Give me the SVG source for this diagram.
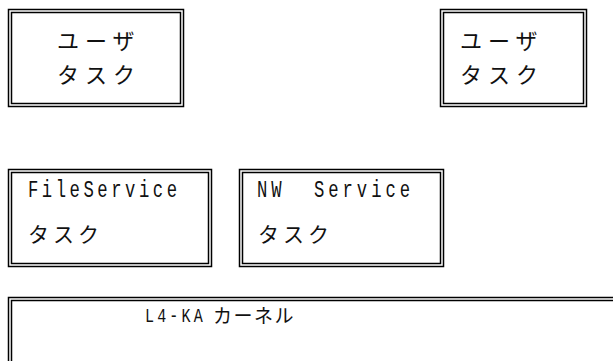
<svg xmlns="http://www.w3.org/2000/svg" width="613" height="361" viewBox="0 0 613 361">
<style>
.o{fill:none;stroke:#000;stroke-width:1.5}
.j{font-family:"Noto Sans CJK JP",sans-serif;font-size:22px;fill:#111}
.s{font-family:"Noto Sans CJK JP",sans-serif;font-size:21px;fill:#111}
.k{font-family:"Noto Sans CJK JP",sans-serif;font-size:19px;fill:#111}
.m{font-family:"Liberation Mono",monospace;font-size:23px;fill:#111;white-space:pre}
.n{font-family:"Liberation Mono",monospace;font-size:20px;fill:#111;white-space:pre}
</style>
<rect width="613" height="361" fill="#fff"/>
<g id="user1">
<rect class="o" x="8.5" y="9.5" width="175" height="97"/>
<rect class="o" x="11.5" y="12.5" width="169" height="91"/>
<text class="j" x="57" y="49" letter-spacing="6">ユーザ</text>
<text class="j" x="57" y="83" letter-spacing="6">タスク</text>
</g>
<g id="user2">
<rect class="o" x="440.5" y="9.5" width="146" height="97"/>
<rect class="o" x="443.5" y="12.5" width="140" height="91"/>
<text class="j" x="460" y="49" letter-spacing="6">ユーザ</text>
<text class="j" x="460" y="83" letter-spacing="6">タスク</text>
</g>
<g id="fileservice">
<rect class="o" x="8.5" y="169.5" width="203" height="97"/>
<rect class="o" x="11.5" y="172.5" width="197" height="91"/>
<text class="m" transform="scale(0.75,1)" x="37.3" y="197" textLength="198.7" lengthAdjust="spacing">FileService</text>
<text class="s" x="28" y="242" letter-spacing="4">タスク</text>
</g>
<g id="nwservice">
<rect class="o" x="239.5" y="169.5" width="204" height="97"/>
<rect class="o" x="242.5" y="172.5" width="198" height="91"/>
<text class="m" transform="scale(0.75,1)" x="342.7" y="197" textLength="204" lengthAdjust="spacing">NW  Service</text>
<text class="s" x="258" y="242" letter-spacing="4">タスク</text>
</g>
<g id="kernel">
<rect class="o" x="8.5" y="297.5" width="620" height="80"/>
<rect class="o" x="11.5" y="300.5" width="614" height="74"/>
<text class="n" transform="scale(0.75,1)" x="193.3" y="322" textLength="77" lengthAdjust="spacing">L4-KA</text>
<text class="k" x="213" y="323" letter-spacing="1.5">カーネル</text>
</g>
<g id="connectors"/>
</svg>
